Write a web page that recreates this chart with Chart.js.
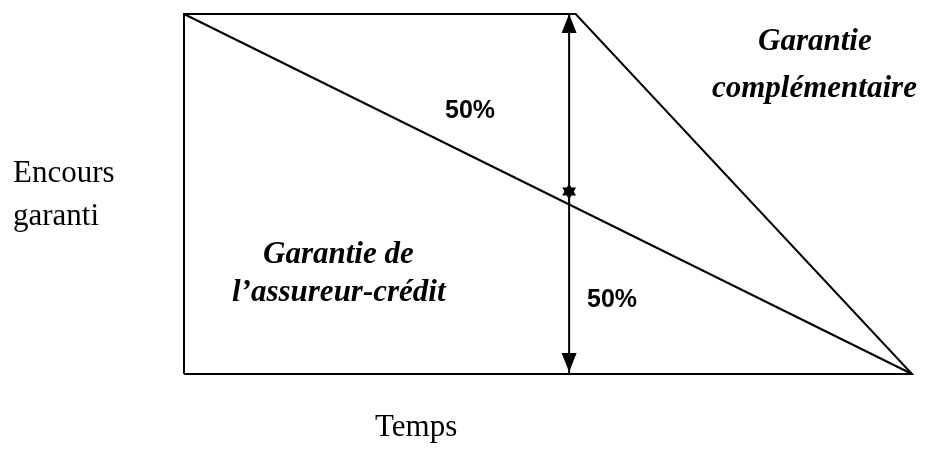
<!DOCTYPE html>
<html>
<head>
<meta charset="utf-8">
<script src="https://cdn.jsdelivr.net/npm/chart.js@4.4.1/dist/chart.umd.min.js"></script>
<style>
  html, body { margin: 0; padding: 0; background: #ffffff; }
  #wrap { width: 928px; height: 456px; position: relative; }
</style>
</head>
<body>
<div id="wrap"><canvas id="c" width="928" height="456"></canvas></div>
<script>
// ---- Data (time axis 0..100, guaranteed amount 0..100) ----
const outlineX = [0, 0, 53.8, 100, 0];
const outlineY = [0, 100, 100, 0, 0];
const diagonalX = [0, 100];
const diagonalY = [100, 0];
const arrowX = [52.9, 52.9];
const arrowY = [0, 100];
const starX = [52.9];
const starY = [50.7];
const axisLabelY = ["Encours", "garanti"];
const axisLabelX = "Temps";
const shareLabels = ["50%", "50%"];
const areaLabelUpper = ["Garantie", "complémentaire"];
const areaLabelLower = ["Garantie de", "l\u2019assureur-crédit"];

const toPts = (xs, ys) => xs.map((x, i) => ({ x: x, y: ys[i] }));

const textPlugin = {
  id: 'diagramText',
  afterDatasetsDraw(chart) {
    const ctx = chart.ctx;
    const xs = chart.scales.x, ys = chart.scales.y;
    ctx.save();
    // arrowheads on the double arrow
    const ax = xs.getPixelForValue(arrowX[0]);
    const yTop = ys.getPixelForValue(arrowY[1]);
    const yBot = ys.getPixelForValue(arrowY[0]);
    ctx.fillStyle = '#000';
    ctx.beginPath();
    ctx.moveTo(ax, yTop); ctx.lineTo(ax - 7.5, yTop + 19); ctx.lineTo(ax + 7.5, yTop + 19); ctx.closePath();
    ctx.fill();
    ctx.beginPath();
    ctx.moveTo(ax, yBot - 2); ctx.lineTo(ax - 7.5, yBot - 21); ctx.lineTo(ax + 7.5, yBot - 21); ctx.closePath();
    ctx.fill();

    ctx.textAlign = 'left';
    ctx.textBaseline = 'alphabetic';
    ctx.fillStyle = '#000';
    // axis labels
    ctx.font = '31px "Liberation Serif", "Times New Roman", serif';
    ctx.fillText(axisLabelY[0], 13, 182);
    ctx.fillText(axisLabelY[1], 13, 225);
    ctx.fillText(axisLabelX, 375, 436);
    // percentage labels
    ctx.font = 'bold 25px "Liberation Sans", Arial, sans-serif';
    ctx.fillText(shareLabels[0], 445, 118);
    ctx.fillText(shareLabels[1], 587, 307);
    // area labels
    ctx.font = 'italic bold 31px "Liberation Serif", "Times New Roman", serif';
    ctx.fillText(areaLabelUpper[0], 758, 50);
    ctx.fillText(areaLabelUpper[1], 712, 97);
    ctx.fillText(areaLabelLower[0], 263, 263);
    ctx.fillText(areaLabelLower[1], 232, 301);
    ctx.restore();
  }
};

new Chart(document.getElementById('c'), {
  type: 'scatter',
  data: {
    datasets: [
      { data: toPts(outlineX, outlineY), showLine: true, borderColor: '#000', borderWidth: 2, pointRadius: 0, fill: false, tension: 0, clip: false, borderJoinStyle: 'miter' },
      { data: toPts(diagonalX, diagonalY), showLine: true, borderColor: '#000', borderWidth: 2, pointRadius: 0, fill: false, tension: 0, clip: false },
      { data: toPts(arrowX, arrowY), showLine: true, borderColor: '#000', borderWidth: 2, pointRadius: 0, fill: false, tension: 0, clip: false },
      { data: toPts(starX, starY), showLine: false, pointStyle: 'triangle', pointRadius: 8, pointRotation: 0, backgroundColor: '#000', borderColor: '#000', borderWidth: 0, clip: false },
      { data: toPts(starX, starY), showLine: false, pointStyle: 'triangle', pointRadius: 8, pointRotation: 180, backgroundColor: '#000', borderColor: '#000', borderWidth: 0, clip: false }
    ]
  },
  options: {
    responsive: false,
    animation: false,
    devicePixelRatio: 1,
    layout: { padding: { left: 184, right: 16, top: 14, bottom: 82 } },
    scales: {
      x: { type: 'linear', min: 0, max: 100, display: false },
      y: { type: 'linear', min: 0, max: 100, display: false }
    },
    plugins: { legend: { display: false }, tooltip: { enabled: false } },
    events: []
  },
  plugins: [textPlugin]
});
</script>
</body>
</html>
